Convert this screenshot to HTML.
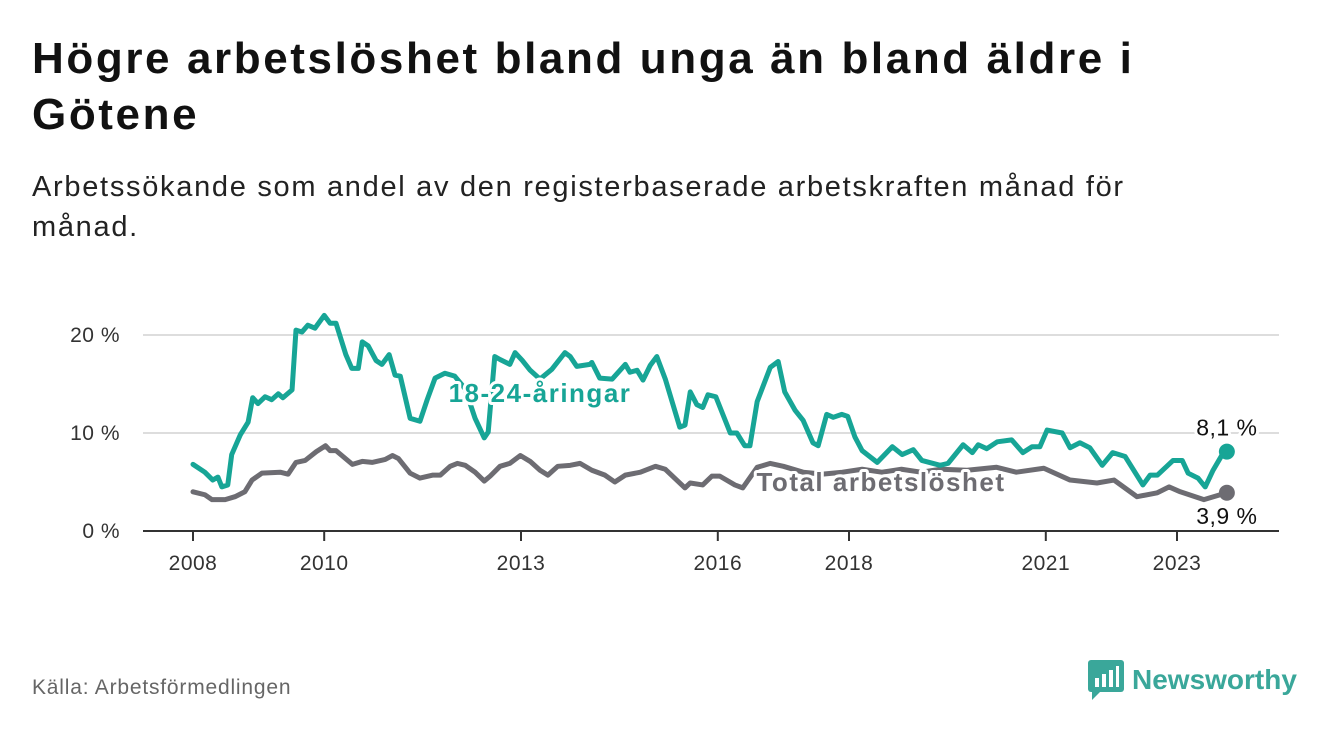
<!DOCTYPE html>
<html><head><meta charset="utf-8"><style>
body{margin:0;width:1340px;height:734px;background:#fff;font-family:"Liberation Sans","DejaVu Sans",sans-serif;overflow:hidden;position:relative}
.t{position:absolute;left:32px;margin:0;color:#111}
</style></head><body>
<h1 class="t" style="top:31px;font-size:44px;line-height:56px;font-weight:bold;width:1160px;letter-spacing:2.6px">Högre arbetslöshet bland unga än bland äldre i Götene</h1>
<p class="t" style="top:167px;font-size:29px;line-height:40px;color:#222;width:1170px;letter-spacing:1.7px">Arbetssökande som andel av den registerbaserade arbetskraften månad för månad.</p>
<svg id="chart" width="1340" height="734" style="position:absolute;left:0;top:0"></svg>
<div style="position:absolute;left:32px;top:676px;font-size:21px;color:#666;letter-spacing:0.8px">Källa: Arbetsförmedlingen</div>
<div style="position:absolute;left:1088px;top:660px;height:40px;display:flex;align-items:center">
<svg width="36" height="40" viewBox="0 0 36 40"><rect x="0" y="0" width="36" height="32" rx="3" fill="#3aa79a"/><path d="M4 32 L4 40 L12 32Z" fill="#3aa79a"/><rect x="7" y="18" width="4" height="9" fill="#fff"/><rect x="14" y="14" width="4" height="13" fill="#fff"/><rect x="21" y="10" width="4" height="17" fill="#fff"/><rect x="28" y="6" width="3" height="21" fill="#fff"/></svg>
<span style="font-size:28px;font-weight:bold;color:#3aa79a;margin-left:8px">Newsworthy</span></div>
<script>
const youthDates=[2008.00,2008.18,2008.30,2008.38,2008.44,2008.53,2008.59,2008.72,2008.84,2008.91,2008.99,2009.10,2009.20,2009.30,2009.37,2009.51,2009.57,2009.66,2009.75,2009.86,2010.00,2010.09,2010.18,2010.33,2010.42,2010.52,2010.58,2010.67,2010.79,2010.88,2010.99,2011.08,2011.16,2011.31,2011.46,2011.57,2011.69,2011.84,2011.99,2012.15,2012.30,2012.44,2012.50,2012.60,2012.68,2012.83,2012.91,2013.02,2013.14,2013.29,2013.47,2013.67,2013.75,2013.85,2014.05,2014.08,2014.20,2014.39,2014.59,2014.66,2014.77,2014.86,2014.97,2015.07,2015.20,2015.42,2015.50,2015.58,2015.68,2015.77,2015.85,2015.97,2016.19,2016.29,2016.41,2016.49,2016.60,2016.80,2016.92,2017.02,2017.18,2017.30,2017.45,2017.53,2017.66,2017.76,2017.89,2017.98,2018.09,2018.20,2018.43,2018.66,2018.81,2018.98,2019.11,2019.39,2019.51,2019.74,2019.88,2019.97,2020.10,2020.26,2020.48,2020.65,2020.79,2020.91,2021.02,2021.25,2021.37,2021.52,2021.67,2021.86,2022.02,2022.21,2022.48,2022.59,2022.70,2022.94,2023.08,2023.17,2023.32,2023.43,2023.55,2023.69,2023.76];
const youthValues=[6.8,6.0,5.2,5.5,4.5,4.7,7.8,9.8,11.1,13.6,13.0,13.7,13.4,14.0,13.6,14.4,20.5,20.3,21.0,20.7,22.0,21.2,21.2,18.0,16.6,16.6,19.3,18.9,17.4,17.0,18.0,15.9,15.8,11.5,11.2,13.4,15.6,16.1,15.8,14.5,11.5,9.5,10.1,17.8,17.5,17.0,18.2,17.4,16.4,15.5,16.5,18.2,17.8,16.8,17.0,17.2,15.6,15.5,17.0,16.2,16.4,15.4,16.9,17.8,15.5,10.6,10.8,14.2,12.9,12.6,13.9,13.7,10.0,10.0,8.7,8.7,13.2,16.7,17.3,14.2,12.3,11.3,9.0,8.7,11.9,11.6,11.9,11.7,9.6,8.2,7.0,8.6,7.8,8.3,7.2,6.7,6.9,8.8,8.0,8.8,8.4,9.1,9.3,8.0,8.6,8.6,10.3,10.0,8.5,9.0,8.5,6.7,8.0,7.6,4.7,5.7,5.7,7.2,7.2,5.9,5.4,4.5,6.2,7.8,8.1];
const totalDates=[2008.00,2008.18,2008.29,2008.49,2008.64,2008.79,2008.90,2009.05,2009.33,2009.45,2009.57,2009.71,2009.88,2010.02,2010.09,2010.18,2010.43,2010.58,2010.73,2010.93,2011.04,2011.13,2011.31,2011.46,2011.65,2011.77,2011.92,2012.03,2012.15,2012.30,2012.44,2012.53,2012.68,2012.83,2012.99,2013.14,2013.29,2013.41,2013.56,2013.75,2013.90,2014.08,2014.28,2014.43,2014.59,2014.82,2015.05,2015.20,2015.50,2015.58,2015.77,2015.91,2016.03,2016.26,2016.38,2016.6,2016.8,2017.0,2017.3,2017.6,2017.9,2018.2,2018.5,2018.8,2019.1,2019.4,2019.8,2020.25,2020.55,2020.97,2021.37,2021.78,2022.04,2022.39,2022.70,2022.88,2023.05,2023.41,2023.76];
const totalValues=[4.0,3.7,3.2,3.2,3.5,4.0,5.2,5.9,6.0,5.8,7.0,7.2,8.1,8.7,8.2,8.2,6.8,7.1,7.0,7.3,7.7,7.4,5.9,5.4,5.7,5.7,6.6,6.9,6.7,6.0,5.1,5.6,6.6,6.9,7.7,7.1,6.2,5.7,6.6,6.7,6.9,6.2,5.7,5.0,5.7,6.0,6.6,6.3,4.4,4.9,4.7,5.6,5.6,4.7,4.4,6.5,6.9,6.6,6.0,5.8,6.0,6.3,6.0,6.3,6.0,6.3,6.2,6.5,6.0,6.4,5.2,4.9,5.2,3.5,3.9,4.5,4.0,3.2,3.9];
const yTicks=[0,10,20];
const yTickLabels=["0 %","10 %","20 %"];
const xTicks=[2008,2010,2013,2016,2018,2021,2023];
const NS="http://www.w3.org/2000/svg";
const svg=document.getElementById('chart');
const X=v=>193+(v-2008)*65.6;
const Y=v=>531-v*9.8;
function mk(tag,attrs,parent){const e=document.createElementNS(NS,tag);for(const k in attrs)e.setAttribute(k,attrs[k]);(parent||svg).appendChild(e);return e;}
yTicks.forEach((t,i)=>{
 if(t>0){const g=mk('line',{x1:143,x2:1279,y1:Y(t),y2:Y(t),stroke:'#ddd','stroke-width':2});
 
 }
 const l=mk('text',{x:120,y:Y(t)+7,'text-anchor':'end','font-size':21,fill:'#333','letter-spacing':0.5});l.textContent=yTickLabels[i];
 
 
});
const ax=mk('line',{x1:143,x2:1279,y1:531,y2:531,stroke:'#333','stroke-width':2});


xTicks.forEach(t=>{
 const tk=mk('line',{x1:X(t),x2:X(t),y1:531,y2:541,stroke:'#333','stroke-width':2});
 
 
 const l=mk('text',{x:X(t),y:570,'text-anchor':'middle','font-size':21,fill:'#333','letter-spacing':0.5});l.textContent=t;
 
 
});
function line(d,v,c,name){
 const p=mk('polyline',{points:d.map((x,i)=>X(x)+','+Y(v[i])).join(' '),fill:'none',stroke:c,'stroke-width':5,'stroke-linejoin':'round','stroke-linecap':'round'});
 
 
 const n=d.length-1;
 const c2=mk('circle',{cx:X(d[n]),cy:Y(v[n]),r:8,fill:c});
 
 
}
line(totalDates,totalValues,'#6d6c72','total-line');
line(youthDates,youthValues,'#17a596','youth-line');
function lab(x,y,txt,c,name,bold,size,ls){
 const t=mk('text',{x:x,y:y,'text-anchor':'middle','font-size':size,'font-weight':bold?'bold':'normal',fill:c,stroke:'#fff','stroke-width':6,'paint-order':'stroke','stroke-linejoin':'round','letter-spacing':ls||0});
 t.textContent=txt;
 
 
}
lab(540,402,'18-24-åringar','#17a596','youth-series-label',true,26,1.5);
lab(881,491,'Total arbetslöshet','#6d6c72','total-series-label',true,26,1.5);
const ny=youthValues.length-1,nt=totalValues.length-1;
lab(X(youthDates[ny]),Y(youthValues[ny])-16,youthValues[ny].toFixed(1).replace('.',',')+' %','#111','youth-end-value',false,23,0.5);
lab(X(totalDates[nt]),Y(totalValues[nt])+31,totalValues[nt].toFixed(1).replace('.',',')+' %','#111','total-end-value',false,23,0.5);
</script>
</body></html>
